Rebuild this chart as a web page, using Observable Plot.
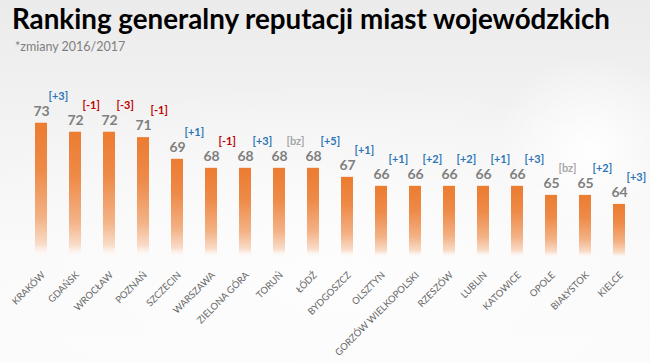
<!DOCTYPE html>
<html>
<head>
<meta charset="utf-8">
<script src="https://cdn.jsdelivr.net/npm/d3@7"></script>
<script src="https://cdn.jsdelivr.net/npm/@observablehq/plot@0.6"></script>
<style>
  html, body { margin: 0; padding: 0; }
  body {
    width: 650px; height: 363px; overflow: hidden;
    font-family: Lato, "Open Sans", sans-serif;
    background:
      radial-gradient(circle at 590px 150px, rgba(255,255,255,0.95) 0, rgba(255,255,255,0) 95px),
      radial-gradient(ellipse 420px 200px at 330px 280px, rgba(253,253,253,1) 0, rgba(253,253,253,0) 100%),
      linear-gradient(#ebebeb 0, #f3f3f3 35%, #f9f9f9 70%, #fbfbfb 100%);
  }
  #title { height: 36px; line-height: 36px; font-size: 29px; font-weight: 700; color: #000; padding-left: 12px; white-space: nowrap; }
  #title span { display: inline-block; transform-origin: 0 50%; }
  #subtitle { height: 22px; line-height: 22px; font-size: 12.5px; color: #7f7f7f; padding-left: 15px; }
</style>
</head>
<body>
<div id="title"><span>Ranking generalny reputacji miast wojewódzkich</span></div>
<div id="subtitle">*zmiany 2016/2017</div>
<div id="chart"></div>
<script>
const cities = ["KRAKÓW","GDAŃSK","WROCŁAW","POZNAŃ","SZCZECIN","WARSZAWA","ZIELONA GÓRA","TORUŃ","ŁÓDŹ","BYDGOSZCZ","OLSZTYN","GORZÓW WIELKOPOLSKI","RZESZÓW","LUBLIN","KATOWICE","OPOLE","BIAŁYSTOK","KIELCE"];
const scores = [73, 72, 72, 71.4, 69, 68, 68, 68, 68, 67, 66, 66, 66, 66, 66, 65, 65, 64];
const changes = ["[+3]","[-1]","[-3]","[-1]","[+1]","[-1]","[+3]","[bz]","[+5]","[+1]","[+1]","[+2]","[+2]","[+1]","[+3]","[bz]","[+2]","[+3]"];
const yBase = 58;
const yTop = 74;

const data = cities.map((city, i) => ({city, score: scores[i], change: changes[i]}));
const changeColor = c => c.startsWith("[+") ? "#2E75B6" : c.startsWith("[-") ? "#C00000" : "#A6A6A6";

const chart = Plot.plot({
  width: 650,
  height: 305,
  marginLeft: 24,
  marginRight: 14,
  marginTop: 55.7,
  marginBottom: 105,
  style: {background: "transparent", fontFamily: "Lato, 'Open Sans', sans-serif", overflow: "visible"},
  x: {domain: cities, paddingInner: 0.65, paddingOuter: 0.325, axis: null},
  y: {domain: [yBase, yTop], axis: null},
  marks: [
    Plot.barY(data, {x: "city", y1: () => yBase, y2: "score", fill: "url(#barGrad)"}),
    Plot.text(data, {x: "city", y: "score", text: d => d3.format(".0f")(d.score), dy: -12, fill: "#7F7F7F", fontSize: 14, fontWeight: 700}),
    Plot.text(data, {x: "city", y: "score", text: "change", dx: 7, dy: -27, textAnchor: "start", fill: d => changeColor(d.change), fontSize: 11, fontWeight: 700}),
    Plot.axisX({tickRotate: -45, tickSize: 0, tickPadding: 15, dx: 2, fontSize: 9.5, fill: "#666666", label: null})
  ]
});

const defs = d3.select(chart).insert("defs", ":first-child");
const g = defs.append("linearGradient").attr("id", "barGrad").attr("x1", 0).attr("y1", 0).attr("x2", 0).attr("y2", 1);
g.append("stop").attr("offset", "0%").attr("stop-color", "#EC7C30");
g.append("stop").attr("offset", "35%").attr("stop-color", "#EE8A48");
g.append("stop").attr("offset", "70%").attr("stop-color", "#F3B184");
g.append("stop").attr("offset", "90%").attr("stop-color", "#F9DCC8");
g.append("stop").attr("offset", "100%").attr("stop-color", "#FFFFFF").attr("stop-opacity", 0);

document.getElementById("chart").appendChild(chart);

const span = document.querySelector("#title span");
const w = span.getBoundingClientRect().width;
span.style.transform = `scaleX(${598 / w})`;
</script>
</body>
</html>
